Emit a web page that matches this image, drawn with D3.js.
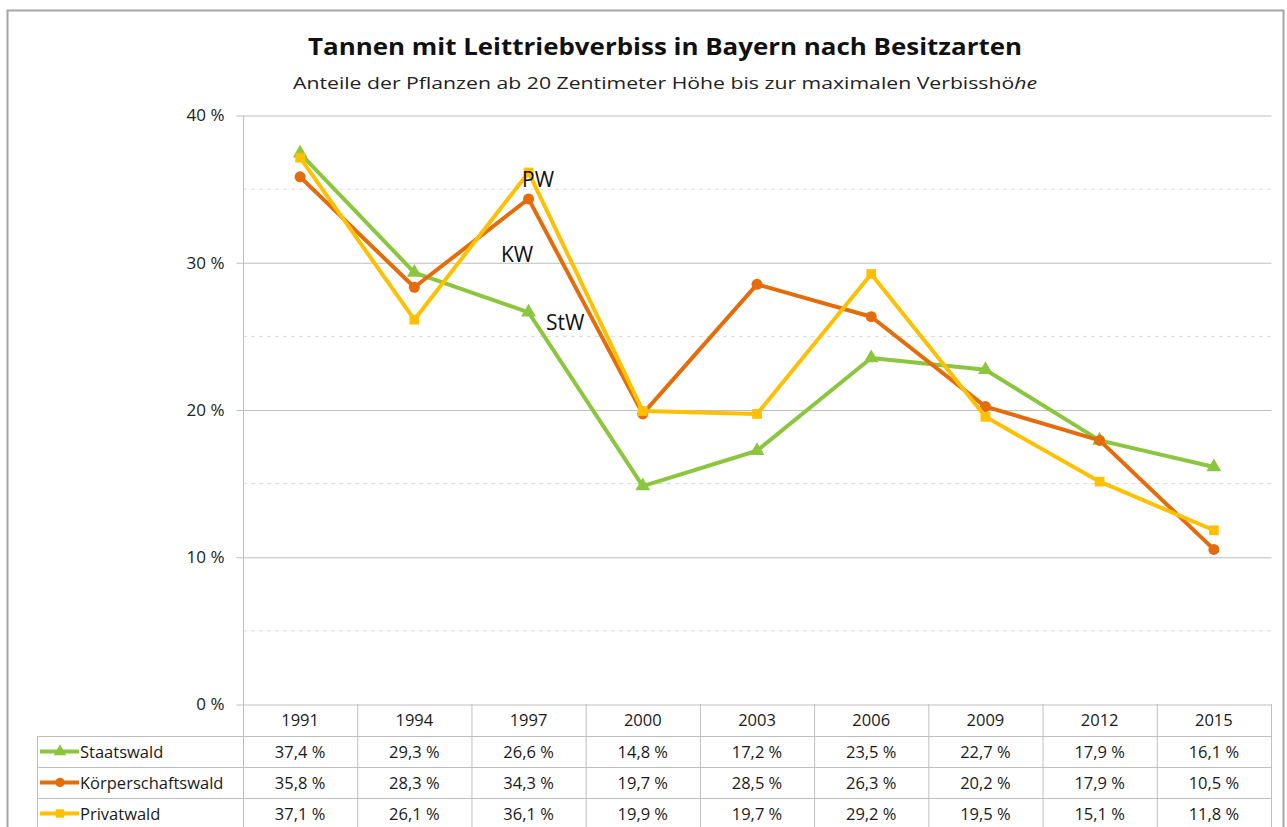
<!DOCTYPE html>
<html>
<head>
<meta charset="utf-8">
<script src="https://cdn.jsdelivr.net/npm/d3@7"></script>
<style>
	body { margin: 0; background: #fff; }
	svg { display: block; font-family: "Open Sans", "DejaVu Sans", sans-serif; }
</style>
</head>
<body>
<div id="chart"></div>
<script>
var years = [1991, 1994, 1997, 2000, 2003, 2006, 2009, 2012, 2015];
var staatswald = [37.4, 29.3, 26.6, 14.8, 17.2, 23.5, 22.7, 17.9, 16.1];
var koerperschaftswald = [35.8, 28.3, 34.3, 19.7, 28.5, 26.3, 20.2, 17.9, 10.5];
var privatwald = [37.1, 26.1, 36.1, 19.9, 19.7, 29.2, 19.5, 15.1, 11.8];
var seriesNames = ["Staatswald", "Körperschaftswald", "Privatwald"];
var seriesShort = ["StW", "KW", "PW"];
var yTicks = [0, 10, 20, 30, 40];
var yMinor = [5, 15, 25, 35];

var colors = ["#8cc63f", "#e46c0a", "#ffc000"];
var symbols = [d3.symbolTriangle, d3.symbolCircle, d3.symbolSquare];

var W = 1287, H = 827;
var svg = d3.select("#chart").append("svg")
	.attr("width", W)
	.attr("height", H);

// frame
svg.append("rect")
	.attr("x", 7.5).attr("y", 10.5)
	.attr("width", 1276).attr("height", 830)
	.attr("fill", "#fff")
	.attr("stroke", "#a6a6a6")
	.attr("stroke-width", 2);

var x = d3.scaleBand()
	.domain(years)
	.range([243, 1271]);

var y = d3.scaleLinear()
	.domain([0, 40])
	.range([704, 115]);

var cx = function(yr) { return x(yr) + x.bandwidth() / 2; };

// titles
svg.append("text")
	.attr("x", 665).attr("y", 55)
	.attr("text-anchor", "middle")
	.style("font-size", "23px")
	.attr("font-weight", "bold")
	.attr("fill", "#111")
	.attr("textLength", 714)
	.attr("lengthAdjust", "spacingAndGlyphs")
	.text("Tannen mit Leittriebverbiss in Bayern nach Besitzarten");

var sub = svg.append("text")
	.attr("x", 665).attr("y", 89)
	.attr("text-anchor", "middle")
	.style("font-size", "17px")
	.attr("fill", "#222")
	.attr("textLength", 744)
	.attr("lengthAdjust", "spacingAndGlyphs");
sub.append("tspan").text("Anteile der Pflanzen ab 20 Zentimeter Höhe bis zur maximalen Verbisshö");
sub.append("tspan").attr("font-style", "italic").text("he");

// gridlines
svg.append("g").selectAll("line.minor")
	.data(yMinor)
	.join("line")
	.attr("x1", 243).attr("x2", 1271)
	.attr("y1", d => y(d) + 0.5).attr("y2", d => y(d) + 0.5)
	.attr("stroke", "#d9d9d9")
	.attr("stroke-dasharray", "4,4");

var yAxis = d3.axisLeft(y)
	.tickValues(yTicks)
	.tickSize(7)
	.tickFormat(d => d + " %");

var gy = svg.append("g")
	.attr("transform", "translate(243.5,0.5)")
	.call(yAxis)
	.attr("font-size", null)
	.attr("font-family", null);
gy.select(".domain").attr("stroke", "#bfbfbf").attr("d", "M0," + y(40) + "V" + y(0));
gy.selectAll(".tick line").attr("stroke", "#bfbfbf");
gy.selectAll(".tick text")
	.attr("x", -19)
	.style("font-size", "17px")
	.attr("fill", "#222");

gy.selectAll(".tick").append("line")
	.attr("x1", 0).attr("x2", 1028)
	.attr("stroke", "#bfbfbf");

// data table
var rowTop = [704, 736, 767, 798, 829];
var table = svg.append("g").attr("stroke", "#bfbfbf").attr("fill", "none");

rowTop.slice(1).forEach(function(t) {
	table.append("line")
		.attr("x1", 37).attr("x2", 1271)
		.attr("y1", t + 0.5).attr("y2", t + 0.5);
});
table.append("line")
	.attr("x1", 37.5).attr("x2", 37.5)
	.attr("y1", 736).attr("y2", H);
years.forEach(function(yr) {
	table.append("line")
		.attr("x1", x(yr) + 0.5).attr("x2", x(yr) + 0.5)
		.attr("y1", 704).attr("y2", H);
});
table.append("line")
	.attr("x1", 1271.5).attr("x2", 1271.5)
	.attr("y1", 704).attr("y2", H);

svg.append("g").selectAll("text")
	.data(years)
	.join("text")
	.attr("x", d => cx(d))
	.attr("y", 726)
	.attr("text-anchor", "middle")
	.style("font-size", "16.5px")
	.attr("fill", "#1a1a1a")
	.text(d => d);

var allSeries = [staatswald, koerperschaftswald, privatwald];
var fmt = function(v) { return v.toFixed(1).replace(".", ",") + " %"; };

allSeries.forEach(function(vals, i) {
	var rowMid = (rowTop[i + 1] + rowTop[i + 2]) / 2;
	svg.append("g").selectAll("text")
		.data(vals)
		.join("text")
		.attr("x", (d, j) => cx(years[j]))
		.attr("y", rowMid + 6)
		.attr("text-anchor", "middle")
		.style("font-size", "16.5px")
		.attr("fill", "#1a1a1a")
		.text(d => fmt(d));

	// legend key
	svg.append("line")
		.attr("x1", 40).attr("x2", 79)
		.attr("y1", rowMid).attr("y2", rowMid)
		.attr("stroke", colors[i])
		.attr("stroke-width", 4);
	svg.append("path")
		.attr("d", d3.symbol().type(symbols[i]).size(70))
		.attr("transform", "translate(60," + rowMid + ")")
		.attr("fill", colors[i]);
	svg.append("text")
		.attr("x", 80).attr("y", rowMid + 6)
		.style("font-size", "16.5px")
		.attr("fill", "#1a1a1a")
		.text(seriesNames[i]);
});

// lines
var line = d3.line()
	.x((d, j) => cx(years[j]))
	.y(d => y(d));

allSeries.forEach(function(vals, i) {
	svg.append("path")
		.datum(vals)
		.attr("d", line)
		.attr("fill", "none")
		.attr("stroke", colors[i])
		.attr("stroke-width", 4)
		.attr("stroke-linejoin", "round");
	svg.append("g").selectAll("path")
		.data(vals)
		.join("path")
		.attr("d", d3.symbol().type(symbols[i]).size(95))
		.attr("transform", (d, j) => "translate(" + cx(years[j]) + "," + y(d) + ")")
		.attr("fill", colors[i]);
});

// series labels
var labelPos = [[546, 330], [501, 262], [522, 187]];
seriesShort.forEach(function(s, i) {
	svg.append("text")
		.attr("x", labelPos[i][0]).attr("y", labelPos[i][1])
		.style("font-size", "21px")
		.attr("fill", "#111")
		.text(s);
});
</script>
</body>
</html>
